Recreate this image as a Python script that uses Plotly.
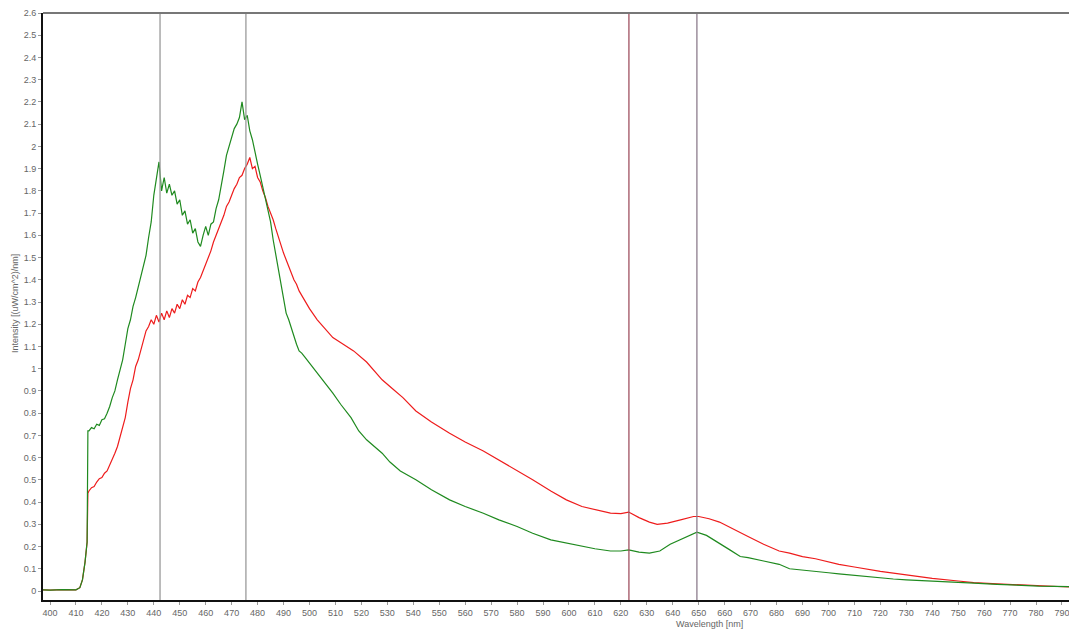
import plotly.graph_objects as go

# Green spectrum (wavelength nm, intensity)
green_wl = [397.3, 400, 405, 410, 411.5, 412.5, 413.5, 414.3, 414.6,
            415, 416, 417, 418, 419, 420, 421, 422, 423, 424, 425, 426, 427, 428, 429, 430,
            431, 432, 433, 434, 435, 436, 437, 438, 439, 440, 441, 442, 443, 444, 445, 446,
            447, 448, 449, 450, 451, 452, 453, 454, 455, 456, 457, 458, 459, 460, 461, 462,
            463, 464, 465, 466, 467, 468, 469, 470, 471, 472, 473, 474, 475, 476, 477, 478,
            479, 480, 481, 482, 483, 484, 485, 486, 487, 488, 489, 490, 491, 492, 493, 494,
            495, 496, 497, 498, 500, 503, 506, 509, 512, 516, 519, 522, 525, 528, 531, 535,
            541, 547, 554, 560, 567, 573, 580, 586, 593, 599, 605, 610, 616, 620, 623, 627,
            631, 635, 639, 644, 649.3, 653, 658, 662, 666, 669, 675, 681, 685, 690, 695, 700,
            704, 710, 715, 720, 725, 730, 740, 750, 756, 765, 773, 781, 792.7]
green_val = [0.005, 0.004, 0.006, 0.005, 0.015, 0.05, 0.13, 0.22, 0.72,
             0.72, 0.735, 0.73, 0.75, 0.745, 0.77, 0.775, 0.80, 0.83, 0.87, 0.90, 0.95, 0.99, 1.04, 1.11, 1.18,
             1.22, 1.28, 1.32, 1.37, 1.41, 1.46, 1.51, 1.59, 1.66, 1.78, 1.86, 1.93, 1.80, 1.86, 1.79, 1.83,
             1.78, 1.80, 1.74, 1.76, 1.69, 1.71, 1.65, 1.67, 1.61, 1.63, 1.57, 1.55, 1.60, 1.64, 1.60, 1.65,
             1.66, 1.72, 1.76, 1.82, 1.89, 1.96, 2.00, 2.04, 2.08, 2.10, 2.13, 2.20, 2.12, 2.14, 2.07, 2.03,
             1.97, 1.92, 1.87, 1.82, 1.77, 1.71, 1.66, 1.58, 1.51, 1.45, 1.38, 1.31, 1.25, 1.22, 1.18, 1.14,
             1.11, 1.08, 1.07, 1.055, 1.025, 0.98, 0.94, 0.89, 0.84, 0.78, 0.72, 0.68, 0.65, 0.62, 0.58, 0.54,
             0.50, 0.455, 0.41, 0.38, 0.35, 0.32, 0.29, 0.26, 0.23, 0.215, 0.20, 0.19, 0.18, 0.18, 0.185, 0.175,
             0.17, 0.18, 0.21, 0.235, 0.265, 0.25, 0.215, 0.185, 0.155, 0.15, 0.135, 0.12, 0.10, 0.093, 0.087, 0.082,
             0.077, 0.07, 0.064, 0.059, 0.054, 0.05, 0.043, 0.038, 0.035, 0.03, 0.026, 0.022, 0.02]

# Red spectrum
red_wl = [397.3, 400, 405, 410, 411.5, 412.5, 413.5, 414.3, 414.6,
          415, 416, 417, 418, 419, 420, 421, 422, 423, 424, 425, 426, 427, 428, 429, 430,
          431, 432, 433, 434, 435, 436, 437, 438, 439, 440, 441, 442, 443, 444, 445, 446,
          447, 448, 449, 450, 451, 452, 453, 454, 455, 456, 457, 458, 459, 460, 461, 462,
          463, 464, 465, 466, 467, 468, 469, 470, 471, 472, 473, 474, 475, 476, 477, 478,
          479, 480, 481, 482, 483, 484, 485, 486, 487, 488, 489, 490, 491, 492, 493, 494,
          495, 496, 497, 498, 499, 500, 503, 506, 509, 513, 517, 522, 525, 528, 532, 536,
          541, 547, 554, 560, 567, 573, 580, 586, 593, 599, 605, 610, 616, 620, 623, 627,
          631, 634, 638, 643, 648, 650, 654, 658, 662, 666, 669, 675, 681, 685, 690, 695,
          700, 704, 710, 715, 720, 725, 730, 740, 750, 756, 765, 773, 781, 792.7]
red_val = [0.005, 0.004, 0.006, 0.005, 0.015, 0.05, 0.13, 0.22, 0.44,
           0.45, 0.465, 0.47, 0.49, 0.505, 0.51, 0.53, 0.54, 0.565, 0.59, 0.62, 0.65, 0.69, 0.74, 0.78, 0.85,
           0.91, 0.95, 1.01, 1.04, 1.08, 1.12, 1.17, 1.19, 1.22, 1.20, 1.24, 1.21, 1.25, 1.22, 1.26, 1.23,
           1.27, 1.25, 1.29, 1.27, 1.31, 1.29, 1.33, 1.32, 1.36, 1.35, 1.39, 1.41, 1.44, 1.47, 1.50, 1.53,
           1.57, 1.60, 1.63, 1.66, 1.69, 1.73, 1.75, 1.78, 1.81, 1.83, 1.86, 1.87, 1.90, 1.92, 1.95, 1.90,
           1.91, 1.86, 1.84, 1.80, 1.77, 1.73, 1.70, 1.67, 1.63, 1.59, 1.55, 1.52, 1.49, 1.46, 1.43, 1.40,
           1.38, 1.35, 1.33, 1.31, 1.29, 1.27, 1.22, 1.18, 1.14, 1.11, 1.08, 1.03, 0.99, 0.95, 0.91, 0.87,
           0.81, 0.76, 0.71, 0.67, 0.63, 0.59, 0.54, 0.50, 0.45, 0.41, 0.38, 0.365, 0.35, 0.348, 0.355, 0.33,
           0.31, 0.30, 0.305, 0.32, 0.335, 0.335, 0.325, 0.31, 0.285, 0.26, 0.245, 0.21, 0.18, 0.17, 0.155, 0.145,
           0.132, 0.12, 0.108, 0.097, 0.088, 0.08, 0.072, 0.057, 0.045, 0.038, 0.032, 0.027, 0.022, 0.018]

# Marker lines (nm) and colours
marker_wl = [442.4, 475.5, 623.1, 649.3]
marker_col = ["#9a9a9a", "#9a9a9a", "#a05060", "#8c7c8c"]

x_ticks = list(range(400, 800, 10))
y_ticks = [round(i * 0.1, 1) for i in range(27)]

fig = go.Figure()
fig.add_trace(go.Scatter(x=red_wl, y=red_val, mode="lines",
                         line=dict(color="#ee1c1c", width=1.2), showlegend=False))
fig.add_trace(go.Scatter(x=green_wl, y=green_val, mode="lines",
                         line=dict(color="#1f8a1f", width=1.2), showlegend=False))

for wl, col in zip(marker_wl, marker_col):
    fig.add_shape(type="line", x0=wl, x1=wl, y0=0, y1=1, xref="x", yref="paper",
                  line=dict(color=col, width=1.3), layer="above")

# top border
fig.add_shape(type="line", x0=0, x1=1, y0=1, y1=1, xref="paper", yref="paper",
              line=dict(color="#777777", width=2))

tickfont = dict(family="Liberation Sans, Arial", size=9, color="#666666")

fig.update_layout(
    width=1069, height=630,
    margin=dict(l=43, r=0, t=13, b=30),
    paper_bgcolor="white", plot_bgcolor="white",
    xaxis=dict(range=[397.3, 792.7], tickvals=x_ticks, ticktext=[str(v) for v in x_ticks],
               showgrid=False, zeroline=False, showline=True, linecolor="#111111", linewidth=2,
               ticks="outside", ticklen=3, tickcolor="#999999", tickfont=tickfont,
               ticklabeloverflow="allow"),
    yaxis=dict(range=[-0.0405, 2.6], tickvals=y_ticks, ticktext=[f"{v:g}" for v in y_ticks],
               showgrid=False, zeroline=False, showline=True, linecolor="#111111", linewidth=2,
               ticks="outside", ticklen=3, tickcolor="#999999", tickfont=tickfont),
    annotations=[
        dict(text="Wavelength [nm]", x=0.65, y=-0.041, xref="paper", yref="paper",
             xanchor="center", yanchor="middle", showarrow=False,
             font=dict(family="Liberation Sans, Arial", size=9, color="#666666")),
        dict(text="Intensity [(uW/cm^2)/nm]", x=-0.0273, y=0.506, xref="paper", yref="paper",
             xanchor="center", yanchor="middle", showarrow=False, textangle=-90,
             font=dict(family="Liberation Sans, Arial", size=9, color="#666666")),
    ],
)

fig.write_html("out.html")
